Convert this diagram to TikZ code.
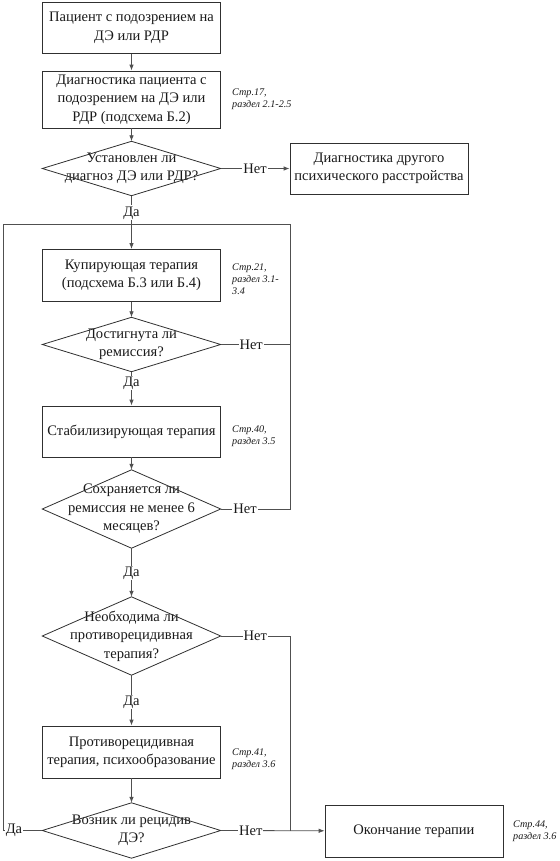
\documentclass[tikz,border=0pt]{standalone}
\usepackage{fontspec}
\setmainfont{Liberation Serif}
\usetikzlibrary{arrows.meta}
\definecolor{txt}{HTML}{1A1A1A}
\definecolor{boxc}{HTML}{303030}
\definecolor{linec}{HTML}{505050}
\begin{document}
\begin{tikzpicture}[x=1bp,y=-1bp,
  every node/.style={text=txt},
  mainfont/.style={font=\fontsize{14.6}{18.5}\selectfont},
  box/.style={draw=boxc, line width=0.8bp, minimum width=178bp, align=center, inner sep=0, mainfont},
  dec/.style={minimum width=178bp, align=center, inner sep=0, mainfont},
  lbl/.style={fill=white, inner sep=1bp, mainfont},
  pref/.style={font=\itshape\fontsize{10.2}{12}\selectfont, anchor=north west, align=left, inner sep=0},
  arr/.style={-{Latex[length=6bp,width=4.5bp]}},
  ln/.style={draw=linec, line width=0.8bp},
  dia/.style={draw=boxc, line width=0.8bp}]
\useasboundingbox (0,0) rectangle (560,861);
\fill[white] (0,0) rectangle (560,861);

% nodes
\node[box, minimum height=51bp] (b1) at (131.5,28) {Пациент с подозрением на\\ДЭ или РДР};
\node[box, minimum height=57bp] (b2) at (131.5,99.5) {Диагностика пациента с\\подозрением на ДЭ или\\РДР (подсхема Б.2)};
\node[dec, minimum height=54bp] (d1) at (131.5,168.5) {Установлен ли\\диагноз ДЭ или РДР?};
\node[box, minimum height=51bp] (oth) at (379,168.5) {Диагностика другого\\психического расстройства};
\node[box, minimum height=52bp] (b3) at (131.5,275.5) {Купирующая терапия\\(подсхема Б.3 или Б.4)};
\node[dec, minimum height=54bp] (d2) at (131.5,344.5) {Достигнута ли\\ремиссия?};
\node[box, minimum height=51bp] (b4) at (131.5,431.5) {Стабилизирующая терапия};
\node[dec, minimum height=78bp] (d3) at (131.5,509) {Сохраняется ли\\ремиссия не менее 6\\месяцев?};
\node[dec, minimum height=78bp] (d4) at (131.5,636) {Необходима ли\\противорецидивная\\терапия?};
\node[box, minimum height=52bp] (b5) at (131.5,752) {Противорецидивная\\терапия, психообразование};
\node[dec, minimum height=55bp] (d5) at (131.5,830.5) {Возник ли рецидив\\ДЭ?};
\node[box, minimum height=52bp] (fin) at (414,831) {Окончание терапии};

% diamonds
\foreach \d in {d1,d2,d3,d4,d5}
  \draw[dia] (\d.west) -- (\d.north) -- (\d.east) -- (\d.south) -- cycle;

% reference labels
\node[pref] (r1) at (232,89) {Стр.17,\\раздел 2.1-2.5};
\node[pref] (r2) at (232,264) {Стр.21,\\раздел 3.1-\\3.4};
\node[pref] (r3) at (232,426) {Стр.40,\\раздел 3.5};
\node[pref] (r4) at (232,749) {Стр.41,\\раздел 3.6};
\node[pref] (r5) at (513,821) {Стр.44,\\раздел 3.6};

% junction coordinates
\coordinate (j) at (131.5,224);
\coordinate (rx) at (290,224);
\coordinate (lx) at (3,224);

% connectors
\draw[ln,arr] (b1) -- (b2);
\draw[ln,arr] (b2) -- (d1.north);
\draw[ln,arr] (d1.east) -- node[lbl]{Нет} (oth);
\draw[ln,arr] (d1.south) -- node[lbl,pos=0.32]{Да} (b3);
\draw[ln,arr] (b3) -- (d2.north);
\draw[ln] (d2.east) -- node[lbl,pos=0.44]{Нет} (d2.east -| rx);
\draw[ln] (d3.east) -- node[lbl,pos=0.35]{Нет} (d3.east -| rx) -- (rx) -- (j);
\draw[ln,arr] (d2.south) -- node[lbl,pos=0.33]{Да} (b4);
\draw[ln,arr] (b4) -- (d3.north);
\draw[ln,arr] (d3.south) -- node[lbl,pos=0.51]{Да} (d4.north);
\draw[ln,arr] (d4.south) -- node[lbl,pos=0.53]{Да} (b5);
\draw[ln,arr] (b5) -- (d5.north);
\draw[ln,arr] (d5.east) -- node[lbl,pos=0.29]{Нет} (fin);
\draw[ln] (d4.east) -- node[lbl,pos=0.5]{Нет} (d4.east -| rx) -- (d5.east -| rx);
\draw[ln] (d5.west) -- node[lbl,pos=0.72]{Да} (d5.west -| lx) -- (lx) -- (j);
\end{tikzpicture}
\end{document}
